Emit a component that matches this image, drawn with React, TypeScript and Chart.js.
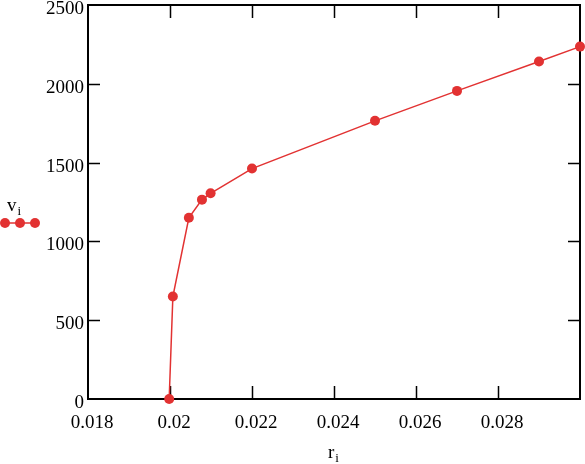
import React, { useEffect, useRef } from "react";
import { Chart, registerables } from "chart.js";

Chart.register(...registerables);

const rValues = [0.01998, 0.02007, 0.02046, 0.02078, 0.02099, 0.022, 0.025, 0.027, 0.029, 0.03];
const vValues = [0, 650, 1150, 1265, 1305, 1462, 1765, 1955, 2142, 2236];
const xTickValues = [0.018, 0.02, 0.022, 0.024, 0.026, 0.028];
const yTickValues = [0, 500, 1000, 1500, 2000, 2500];
const xTitleMain = "r";
const xTitleSub = "i";
const seriesMain = "v";
const seriesSub = "i";

const RED = "#e23232";
const FONT = "'Liberation Serif', 'Times New Roman', serif";

const framePlugin = {
  id: "frame",
  beforeDatasetsDraw(chart: any) {
    const { ctx, chartArea: a, scales } = chart;
    const x = scales.x;
    const y = scales.y;
    ctx.save();
    ctx.strokeStyle = "#000";
    ctx.lineWidth = 2;
    ctx.strokeRect(a.left, a.top, a.right - a.left, a.bottom - a.top);
    const tl = 13;
    ctx.beginPath();
    for (const v of xTickValues) {
      if (v <= x.min || v >= x.max) continue;
      const px = Math.round(x.getPixelForValue(v)) + 0.5;
      ctx.moveTo(px, a.bottom);
      ctx.lineTo(px, a.bottom - tl);
      ctx.moveTo(px, a.top);
      ctx.lineTo(px, a.top + tl);
    }
    for (const v of yTickValues) {
      if (v <= y.min || v >= y.max) continue;
      const py = Math.round(y.getPixelForValue(v)) + 0.5;
      ctx.moveTo(a.left, py);
      ctx.lineTo(a.left + 12, py);
      ctx.moveTo(a.right, py);
      ctx.lineTo(a.right - 12, py);
    }
    ctx.lineWidth = 1.5;
    ctx.stroke();
    ctx.restore();
  },
  afterDraw(chart: any) {
    const { ctx, chartArea: a } = chart;
    ctx.save();
    // legend
    ctx.strokeStyle = RED;
    ctx.fillStyle = RED;
    ctx.lineWidth = 1.5;
    const ly = 223;
    ctx.beginPath();
    ctx.moveTo(5, ly);
    ctx.lineTo(35, ly);
    ctx.stroke();
    for (const cx of [5, 20, 35]) {
      ctx.beginPath();
      ctx.arc(cx, ly, 5, 0, Math.PI * 2);
      ctx.fill();
    }
    ctx.fillStyle = "#000";
    ctx.textBaseline = "alphabetic";
    ctx.textAlign = "left";
    ctx.font = `19px ${FONT}`;
    ctx.fillText(seriesMain, 7, 211);
    const vw = ctx.measureText(seriesMain).width;
    ctx.font = `13px ${FONT}`;
    ctx.fillText(seriesSub, 7 + vw + 1, 215);
    // x title
    const cx = (a.left + a.right) / 2;
    ctx.font = `19px ${FONT}`;
    const rw = ctx.measureText(xTitleMain).width;
    ctx.fillText(xTitleMain, cx - 6, 458);
    ctx.font = `13px ${FONT}`;
    ctx.fillText(xTitleSub, cx - 6 + rw + 1, 462);
    ctx.restore();
  },
};

export default function App() {
  const ref = useRef<HTMLCanvasElement | null>(null);
  useEffect(() => {
    if (!ref.current) return;
    const chart = new Chart(ref.current, {
      type: "line",
      data: {
        datasets: [
          {
            label: "v",
            data: rValues.map((r, i) => ({ x: r, y: vValues[i] })),
            borderColor: RED,
            backgroundColor: RED,
            borderWidth: 1.5,
            pointRadius: 5,
            pointHoverRadius: 5,
            pointBorderWidth: 0,
            pointBackgroundColor: RED,
            tension: 0,
            clip: false as any,
          },
        ],
      },
      options: {
        animation: false,
        responsive: true,
        maintainAspectRatio: false,
        devicePixelRatio: 1,
        layout: { padding: { top: 4, right: 4, left: 0, bottom: 0 } },
        plugins: { legend: { display: false }, tooltip: { enabled: false } },
        events: [],
        scales: {
          x: {
            type: "linear",
            min: 0.018,
            max: 0.03,
            grid: { display: false, drawTicks: false },
            border: { display: false },
            afterBuildTicks: (s: any) => {
              s.ticks = xTickValues.map((v) => ({ value: v }));
            },
            afterFit: (s: any) => {
              s.height = 65;
              s.paddingLeft = 0;
              s.paddingRight = 0;
            },
            ticks: {
              color: "#000",
              font: { family: FONT, size: 19 },
              padding: 13,
              labelOffset: 4,
              maxRotation: 0,
              autoSkip: false,
              callback: (v: any) => String(v),
            },
          },
          y: {
            type: "linear",
            min: 0,
            max: 2500,
            grid: { display: false, drawTicks: false },
            border: { display: false },
            afterBuildTicks: (s: any) => {
              s.ticks = yTickValues.map((v) => ({ value: v }));
            },
            afterFit: (s: any) => {
              s.width = 88;
              s.paddingTop = 0;
              s.paddingBottom = 0;
            },
            ticks: {
              color: "#000",
              font: { family: FONT, size: 19 },
              padding: 4,
              labelOffset: 4,
              autoSkip: false,
              callback: (v: any) => String(v),
            },
          },
        },
      },
      plugins: [framePlugin],
    });
    return () => chart.destroy();
  }, []);
  return (
    <div style={{ position: "absolute", left: 0, top: 0, width: 585, height: 464 }}>
      <canvas ref={ref} />
    </div>
  );
}
